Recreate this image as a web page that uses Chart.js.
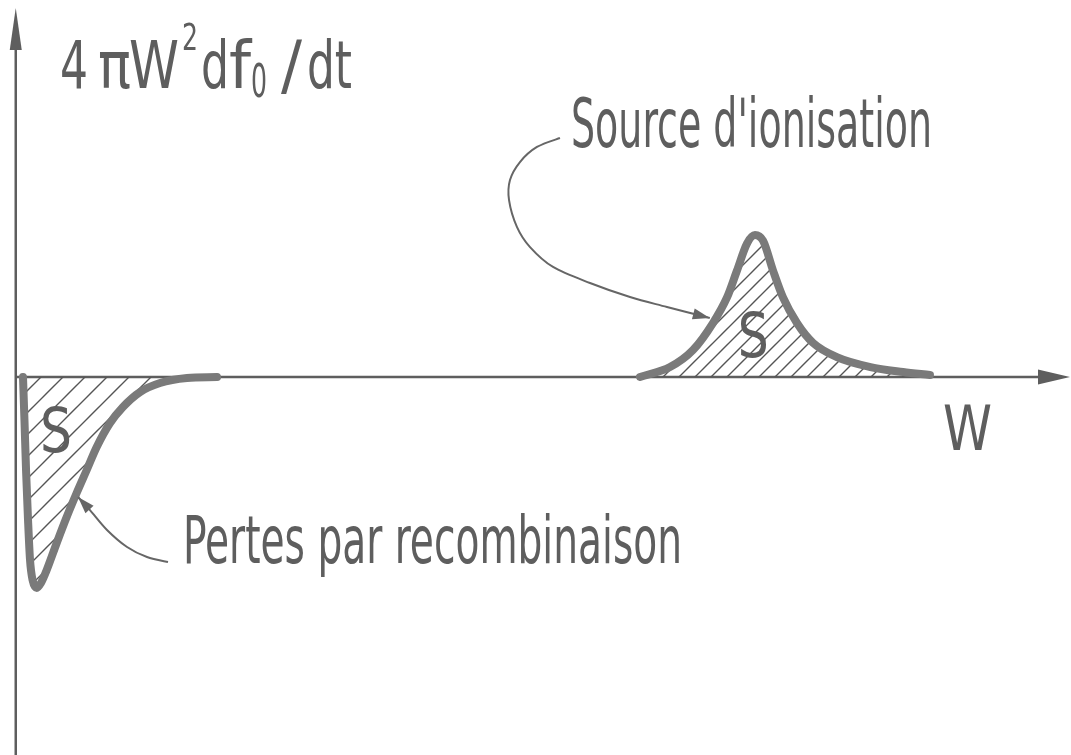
<!DOCTYPE html>
<html>
<head>
<meta charset="utf-8">
<title>4πW² df0/dt</title>
<script src="https://cdn.jsdelivr.net/npm/chart.js@4.4.1/dist/chart.umd.min.js"></script>
<style>
  html, body { margin: 0; padding: 0; background: #fff; overflow: hidden; }
  #wrap { width: 1071px; height: 755px; position: relative; }
</style>
</head>
<body>
<div id="wrap"><canvas id="sketch"></canvas></div>
<script>
// Recombination losses: negative lobe close to W = 0
const lossW    = [0.69, 0.83, 0.98, 1.17, 1.36, 1.6, 2.0, 2.4, 2.95, 3.9, 4.85, 5.8, 6.76, 7.71, 8.98, 10.21, 11.83, 13.74, 16.31, 19.17];
const lossRate = [0, -0.303, -0.655, -1.007, -1.289, -1.43, -1.486, -1.45, -1.359, -1.169, -0.986, -0.817, -0.655, -0.493, -0.324, -0.211, -0.106, -0.042, -0.007, 0];

// Ionisation source: positive peak further out in W
const sourceW    = [59.45, 62.31, 64.5, 66.4, 67.74, 68.69, 69.64, 70.4, 71.17, 72.12, 73.07, 74.4, 75.93, 78.2, 81.4, 84.5, 87.07];
const sourceRate = [0, 0.07, 0.19, 0.38, 0.56, 0.75, 0.94, 1.0, 0.96, 0.75, 0.56, 0.38, 0.24, 0.14, 0.07, 0.035, 0.014];

const FONT = '"DejaVu Sans Condensed", "Liberation Sans Narrow", "DejaVu Sans", sans-serif';
const INK = '#5e5e5e';
const CURVE = '#7a7a7a';

function toPoints(xs, ys) {
    return xs.map((x, i) => ({ x: x, y: ys[i] }));
}

// diagonal hatching used as fill for the areas S
function hatch(step, color) {
    const c = document.createElement('canvas');
    c.width = c.height = step;
    const g = c.getContext('2d');
    g.strokeStyle = color;
    g.lineWidth = 1.4;
    g.beginPath();
    g.moveTo(0, step); g.lineTo(step, 0);
    g.moveTo(-step, step); g.lineTo(step, -step);
    g.moveTo(0, 2 * step); g.lineTo(2 * step, 0);
    g.stroke();
    return g.createPattern(c, 'repeat');
}

// text squeezed horizontally to sit between left and right
function fitText(ctx, text, left, right, baseline, size) {
    ctx.font = size + 'px ' + FONT;
    const w = ctx.measureText(text).width;
    ctx.save();
    ctx.translate(left, baseline);
    ctx.scale((right - left) / w, 1);
    ctx.fillText(text, 0, 0);
    ctx.restore();
}

function spline(ctx, pts) {
    ctx.moveTo(pts[0][0], pts[0][1]);
    for (let i = 0; i < pts.length - 1; i++) {
        const p0 = pts[i - 1] || pts[i], p1 = pts[i], p2 = pts[i + 1], p3 = pts[i + 2] || p2;
        ctx.bezierCurveTo(
            p1[0] + (p2[0] - p0[0]) / 6, p1[1] + (p2[1] - p0[1]) / 6,
            p2[0] - (p3[0] - p1[0]) / 6, p2[1] - (p3[1] - p1[1]) / 6,
            p2[0], p2[1]);
    }
}

function arrowHead(ctx, from, tip, len, half) {
    const a = Math.atan2(tip[1] - from[1], tip[0] - from[0]);
    ctx.beginPath();
    ctx.moveTo(tip[0], tip[1]);
    ctx.lineTo(tip[0] - len * Math.cos(a) + half * Math.sin(a), tip[1] - len * Math.sin(a) - half * Math.cos(a));
    ctx.lineTo(tip[0] - len * Math.cos(a) - half * Math.sin(a), tip[1] - len * Math.sin(a) + half * Math.cos(a));
    ctx.closePath();
    ctx.fill();
}

const sketchAxes = {
    id: 'sketchAxes',
    beforeDatasetsDraw(chart) {
        const { ctx, chartArea, scales } = chart;
        const x0 = scales.x.getPixelForValue(0);
        const y0 = scales.y.getPixelForValue(0);
        const top = chartArea.top + 8;
        const right = chartArea.right - 1;
        ctx.save();
        ctx.strokeStyle = INK;
        ctx.fillStyle = INK;
        ctx.lineWidth = 2.5;
        ctx.beginPath();
        ctx.moveTo(x0, chartArea.bottom);
        ctx.lineTo(x0, top + 30);
        ctx.moveTo(x0, y0);
        ctx.lineTo(right - 25, y0);
        ctx.stroke();
        arrowHead(ctx, [x0, top + 50], [x0, top], 42, 6);
        arrowHead(ctx, [right - 40, y0], [right, y0], 32, 7.5);
        ctx.restore();
    },
    afterDatasetsDraw(chart) {
        const { ctx, chartArea, scales } = chart;
        const px = p => [scales.x.getPixelForValue(p[0]), scales.y.getPixelForValue(p[1])];
        const L = chartArea.left, T = chartArea.top;
        ctx.save();
        ctx.fillStyle = INK;
        ctx.textBaseline = 'alphabetic';

        // y axis title: 4 πW² df0 /dt
        const title = [
            ['4', 60, 88, 88, 66], ['π', 98, 131, 88, 66], ['W', 129, 179, 88, 66],
            ['2', 182, 198, 50, 38], ['d', 201, 229, 88, 66], ['f', 229, 251, 88, 66],
            ['0', 251, 267, 97, 46], ['/', 281, 302, 88, 66], ['dt', 307, 352, 88, 66]
        ];
        title.forEach(t => fitText(ctx, t[0], L + t[1], L + t[2], T + t[3], t[4]));

        // x axis title
        fitText(ctx, 'W', L + 943, L + 992, T + 450, 62);

        // area labels
        const s1 = px([3.83, -0.528]);
        fitText(ctx, 'S', s1[0] - 16, s1[0] + 16, s1[1], 62);
        const s2 = px([70.2, 0.141]);
        fitText(ctx, 'S', s2[0] - 15, s2[0] + 16, s2[1], 62);

        // annotations
        fitText(ctx, 'Source d\'ionisation', L + 571, L + 932, T + 147, 68);
        fitText(ctx, 'Pertes par recombinaison', L + 183, L + 682, T + 563, 66);

        // leader lines towards the curves
        const leaders = [
            [[51.83, 1.683], [49.64, 1.62], [48.02, 1.514], [47.07, 1.387], [46.98, 1.246], [47.74, 1.056],
             [48.98, 0.915], [51.17, 0.775], [54.69, 0.662], [58.5, 0.563], [62.02, 0.493], [66.1, 0.415]],
            [[14.5, -1.303], [12.5, -1.268], [10.6, -1.197], [8.69, -1.077], [7.07, -0.937], [5.93, -0.845]]
        ];
        ctx.strokeStyle = '#666';
        ctx.fillStyle = '#666';
        ctx.lineWidth = 2;
        leaders.forEach(l => {
            const pts = l.map(px);
            ctx.beginPath();
            spline(ctx, pts);
            ctx.stroke();
            arrowHead(ctx, pts[pts.length - 2], pts[pts.length - 1], 17, 5.5);
        });
        ctx.restore();
    }
};

const lineStyle = {
    borderColor: CURVE,
    borderWidth: 8,
    borderCapStyle: 'round',
    borderJoinStyle: 'round',
    cubicInterpolationMode: 'monotone',
    pointRadius: 0,
    fill: 'origin'
};

new Chart(document.getElementById('sketch').getContext('2d'), {
    type: 'line',
    data: {
        datasets: [
            Object.assign({ label: 'Pertes par recombinaison', data: toPoints(lossW, lossRate), backgroundColor: hatch(22, '#555') }, lineStyle),
            Object.assign({ label: 'Source d\'ionisation', data: toPoints(sourceW, sourceRate), backgroundColor: hatch(16, '#555') }, lineStyle)
        ]
    },
    options: {
        responsive: true,
        maintainAspectRatio: false,
        animation: false,
        layout: { padding: 0 },
        plugins: {
            legend: { display: false },
            tooltip: { enabled: false }
        },
        scales: {
            x: { type: 'linear', min: -1.5, max: 100.5, display: false },
            y: { type: 'linear', min: -2.662, max: 2.655, display: false }
        }
    },
    plugins: [sketchAxes]
});
</script>
</body>
</html>
